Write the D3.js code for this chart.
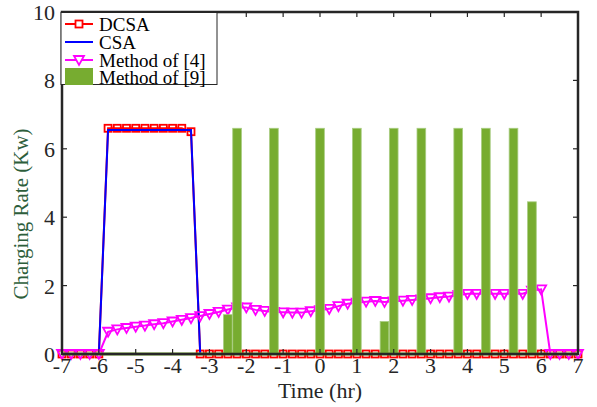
<!DOCTYPE html>
<html><head><meta charset="utf-8">
<script src="https://cdn.jsdelivr.net/npm/d3@7"></script>
<style>body{margin:0;background:#fff}svg{display:block}text{font-family:"Liberation Serif","Times New Roman",serif}</style>
</head><body><svg id="c" width="597" height="407"></svg>
<script>
const times = [-7,-6.75,-6.5,-6.25,-6,-5.75,-5.5,-5.25,-5,-4.75,-4.5,-4.25,-4,-3.75,-3.5,-3.25,-3,-2.75,-2.5,-2.25,-2,-1.75,-1.5,-1.25,-1,-0.75,-0.5,-0.25,0,0.25,0.5,0.75,1,1.25,1.5,1.75,2,2.25,2.5,2.75,3,3.25,3.5,3.75,4,4.25,4.5,4.75,5,5.25,5.5,5.75,6,6.25,6.5,6.75,7];
const dcsa = [0,0,0,0,0,6.6,6.6,6.6,6.6,6.6,6.6,6.6,6.6,6.6,6.5,0,0,0,0,0,0,0,0,0,0,0,0,0,0,0,0,0,0,0,0,0,0,0,0,0,0,0,0,0,0,0,0,0,0,0,0,0,0,0,0,0,0];
const csa = [0,0,0,0,0,6.55,6.55,6.55,6.55,6.55,6.55,6.55,6.55,6.55,6.55,0,0,0,0,0,0,0,0,0,0,0,0,0,0,0,0,0,0,0,0,0,0,0,0,0,0,0,0,0,0,0,0,0,0,0,0,0,0,0,0,0,0];
const method4 = [0,0,0,0,0,0.65,0.72,0.76,0.80,0.83,0.87,0.90,0.95,1.00,1.05,1.11,1.17,1.23,1.30,1.36,1.36,1.29,1.26,1.23,1.22,1.21,1.21,1.25,1.28,1.32,1.40,1.47,1.50,1.53,1.55,1.52,1.54,1.56,1.58,1.60,1.63,1.66,1.68,1.72,1.76,1.76,1.76,1.76,1.76,1.76,1.76,1.85,1.89,0,0,0,0];
const method9 = [0,0,0,0,0,0,0,0,0,0,0,0,0,0,0,0,0,0,1.15,6.6,0,0,0,6.6,0,0,0,0,6.6,0,0,0,6.6,0,0,0.95,6.6,0,0,6.6,0,0,0,6.6,0,0,6.6,0,0,6.6,0,4.45,0,0,0,0,0];
const xTicks = [-7,-6,-5,-4,-3,-2,-1,0,1,2,3,4,5,6,7];
const yTicks = [0,2,4,6,8,10];
const legendLabels = ["DCSA","CSA","Method of [4]","Method of [9]"];

const svg = d3.select("#c");
const L=62,R=578,T=12,B=354;
const x = d3.scaleLinear().domain([-7,7]).range([L,R]);
const y = d3.scaleLinear().domain([0,10]).range([B,T]);
const axisCol="#262626";
const line = d3.line().x((d,i)=>x(times[i])).y(d=>y(d));

// DCSA
svg.append("path").attr("d",line(dcsa)).attr("fill","none").attr("stroke","#ff0000").attr("stroke-width",2);
svg.append("g").selectAll("rect").data(dcsa).join("rect")
  .attr("x",(d,i)=>x(times[i])-3.5).attr("y",d=>y(d)-3.5).attr("width",7).attr("height",7)
  .attr("fill","none").attr("stroke","#ff0000").attr("stroke-width",1.8);
// CSA
svg.append("path").attr("d",line(csa)).attr("fill","none").attr("stroke","#0000ff").attr("stroke-width",2);
// Method of [4]
const tri = (cx,cy)=>`M${cx-5},${cy-4}L${cx+5},${cy-4}L${cx},${cy+5}Z`;
svg.append("path").attr("d",line(method4)).attr("fill","none").attr("stroke","#ff00ff").attr("stroke-width",2);
svg.append("g").selectAll("path").data(method4).join("path")
  .attr("d",(d,i)=>tri(x(times[i]),y(d))).attr("fill","none").attr("stroke","#ff00ff").attr("stroke-width",1.8);
// Method of [9] bars
const bw = 0.118;
svg.append("g").selectAll("rect").data(method9.map((v,i)=>({t:times[i],v})).filter(d=>d.v>0)).join("rect")
  .attr("x",d=>x(d.t-bw)).attr("y",d=>y(d.v)).attr("width",d=>x(d.t+bw)-x(d.t-bw)).attr("height",d=>y(0)-y(d.v))
  .attr("fill","#77ac30").attr("stroke","#a9cd82").attr("stroke-width",0.8);
svg.append("line").attr("x1",x(-7)).attr("x2",x(7)).attr("y1",y(0)).attr("y2",y(0)).attr("stroke","#77ac30").attr("stroke-width",3);

// axes box
const g = svg.append("g");
g.append("rect").attr("x",L).attr("y",T).attr("width",R-L).attr("height",B-T).attr("fill","none").attr("stroke",axisCol).attr("stroke-width",2.5);
xTicks.forEach(t=>{
  g.append("line").attr("x1",x(t)).attr("x2",x(t)).attr("y1",B).attr("y2",B-5).attr("stroke",axisCol).attr("stroke-width",1.2);
  g.append("line").attr("x1",x(t)).attr("x2",x(t)).attr("y1",T).attr("y2",T+5).attr("stroke",axisCol).attr("stroke-width",1.2);
  g.append("text").attr("x",x(t)).attr("y",B+19).attr("text-anchor","middle").attr("font-size",22).attr("fill",axisCol).text(t<0?"-"+Math.abs(t):t);
});
yTicks.forEach(v=>{
  g.append("line").attr("x1",L).attr("x2",L+5).attr("y1",y(v)).attr("y2",y(v)).attr("stroke",axisCol).attr("stroke-width",1.2);
  g.append("line").attr("x1",R).attr("x2",R-5).attr("y1",y(v)).attr("y2",y(v)).attr("stroke",axisCol).attr("stroke-width",1.2);
  g.append("text").attr("x",L-7).attr("y",y(v)+8).attr("text-anchor","end").attr("font-size",22).attr("fill",axisCol).text(v);
});
g.append("text").attr("x",(L+R)/2).attr("y",398).attr("text-anchor","middle").attr("font-size",22).attr("fill",axisCol).text("Time (hr)");
g.append("text").attr("transform","translate(28,214) rotate(-90)").attr("text-anchor","middle").attr("font-size",21).attr("fill","#2d5e3b").text("Charging Rate (Kw)");

// legend
const lg = svg.append("g");
lg.append("rect").attr("x",61).attr("y",12.5).attr("width",156).attr("height",72).attr("fill","#fff").attr("stroke",axisCol).attr("stroke-width",1);
const rows=[24,42,60,77];
legendLabels.forEach((lab,i)=>{
  const cy=rows[i];
  if(i===0){
    lg.append("line").attr("x1",65).attr("x2",93).attr("y1",cy).attr("y2",cy).attr("stroke","#ff0000").attr("stroke-width",2);
    lg.append("rect").attr("x",75.5).attr("y",cy-3.5).attr("width",7).attr("height",7).attr("fill","#fff").attr("stroke","#ff0000").attr("stroke-width",1.8);
  } else if(i===1){
    lg.append("line").attr("x1",65).attr("x2",93).attr("y1",cy).attr("y2",cy).attr("stroke","#0000ff").attr("stroke-width",2);
  } else if(i===2){
    lg.append("line").attr("x1",65).attr("x2",93).attr("y1",cy).attr("y2",cy).attr("stroke","#ff00ff").attr("stroke-width",2);
    lg.append("path").attr("d",tri(79,cy)).attr("fill","#fff").attr("stroke","#ff00ff").attr("stroke-width",1.8);
  } else {
    lg.append("rect").attr("x",65).attr("y",cy-9).attr("width",28).attr("height",17).attr("fill","#77ac30");
  }
  lg.append("text").attr("x",99).attr("y",cy+6.5).attr("font-size",19).attr("fill","#000").text(lab);
});
</script></body></html>
